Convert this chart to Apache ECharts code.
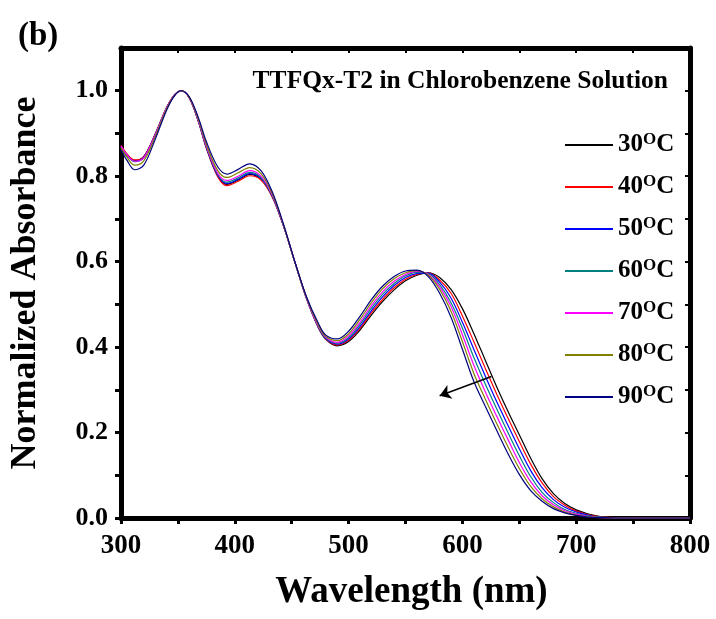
<!DOCTYPE html>
<html>
<head>
<meta charset="utf-8">
<script src="https://cdn.jsdelivr.net/npm/echarts@6/dist/echarts.min.js"></script>
<style>
  html, body { margin: 0; padding: 0; background: #fff; }
  #chart { width: 716px; height: 619px; }
</style>
</head>
<body>
<div id="chart"></div>
<script>
// wavelength grid (nm)
const wavelength = [300, 305, 312, 320, 330, 340, 347, 353, 360, 368,
  375, 385, 393, 403, 413, 423, 433, 443, 453, 463,
  473, 480, 490, 500, 510, 520, 530, 540, 550, 560,
  570, 580, 590, 600, 610, 620, 630, 640, 650, 660,
  670, 680, 690, 700, 710, 720, 735, 760, 800];

// normalized absorbance, one list per temperature
const abs30 = [0.870, 0.852, 0.837, 0.846, 0.898, 0.960, 0.990, 1.000, 0.983, 0.928,
  0.866, 0.800, 0.781, 0.791, 0.804, 0.793, 0.752, 0.682, 0.597, 0.514,
  0.448, 0.418, 0.403, 0.413, 0.440, 0.475, 0.507, 0.534, 0.555, 0.568,
  0.574, 0.563, 0.535, 0.490, 0.432, 0.370, 0.308, 0.250, 0.195, 0.140,
  0.092, 0.057, 0.034, 0.019, 0.010, 0.004, 0.001, 0.000, 0.000];
const abs40 = [0.872, 0.853, 0.838, 0.846, 0.898, 0.960, 0.990, 1.000, 0.983, 0.928,
  0.866, 0.799, 0.778, 0.788, 0.801, 0.791, 0.751, 0.682, 0.597, 0.514,
  0.448, 0.419, 0.405, 0.416, 0.444, 0.480, 0.512, 0.539, 0.559, 0.570,
  0.574, 0.557, 0.526, 0.473, 0.413, 0.351, 0.291, 0.234, 0.179, 0.126,
  0.082, 0.050, 0.030, 0.016, 0.008, 0.003, 0.001, 0.000, 0.000];
const abs50 = [0.869, 0.850, 0.835, 0.844, 0.897, 0.959, 0.990, 1.000, 0.984, 0.929,
  0.868, 0.802, 0.783, 0.793, 0.806, 0.795, 0.753, 0.682, 0.597, 0.514,
  0.449, 0.420, 0.407, 0.419, 0.448, 0.485, 0.518, 0.544, 0.563, 0.572,
  0.573, 0.552, 0.515, 0.458, 0.395, 0.333, 0.273, 0.217, 0.162, 0.111,
  0.071, 0.043, 0.025, 0.014, 0.007, 0.002, 0.000, 0.000, 0.000];
const abs60 = [0.868, 0.849, 0.834, 0.843, 0.896, 0.959, 0.990, 1.000, 0.984, 0.930,
  0.869, 0.804, 0.786, 0.796, 0.809, 0.797, 0.754, 0.683, 0.597, 0.515,
  0.450, 0.421, 0.409, 0.422, 0.453, 0.491, 0.524, 0.549, 0.567, 0.575,
  0.572, 0.546, 0.504, 0.444, 0.376, 0.314, 0.256, 0.200, 0.146, 0.097,
  0.060, 0.036, 0.020, 0.011, 0.005, 0.002, 0.000, 0.000, 0.000];
const abs70 = [0.871, 0.851, 0.835, 0.843, 0.896, 0.959, 0.990, 1.000, 0.984, 0.931,
  0.871, 0.807, 0.790, 0.800, 0.813, 0.800, 0.756, 0.683, 0.597, 0.515,
  0.451, 0.423, 0.411, 0.426, 0.458, 0.497, 0.530, 0.554, 0.570, 0.577,
  0.570, 0.541, 0.495, 0.429, 0.358, 0.296, 0.239, 0.184, 0.130, 0.085,
  0.052, 0.031, 0.017, 0.009, 0.004, 0.001, 0.000, 0.000, 0.000];
const abs80 = [0.866, 0.845, 0.826, 0.836, 0.892, 0.957, 0.989, 1.000, 0.985, 0.933,
  0.875, 0.813, 0.797, 0.808, 0.820, 0.806, 0.759, 0.684, 0.597, 0.516,
  0.454, 0.425, 0.415, 0.431, 0.465, 0.504, 0.537, 0.560, 0.574, 0.579,
  0.568, 0.535, 0.484, 0.413, 0.339, 0.279, 0.222, 0.167, 0.116, 0.074,
  0.045, 0.026, 0.014, 0.007, 0.003, 0.001, 0.000, 0.000, 0.000];
const abs90 = [0.862, 0.838, 0.815, 0.826, 0.886, 0.954, 0.988, 1.000, 0.986, 0.937,
  0.881, 0.822, 0.805, 0.816, 0.829, 0.813, 0.763, 0.686, 0.598, 0.518,
  0.458, 0.428, 0.419, 0.437, 0.472, 0.511, 0.543, 0.565, 0.578, 0.580,
  0.565, 0.526, 0.470, 0.395, 0.320, 0.262, 0.206, 0.151, 0.102, 0.064,
  0.039, 0.022, 0.012, 0.006, 0.002, 0.001, 0.000, 0.000, 0.000];

const temperatures = ['30', '40', '50', '60', '70', '80', '90'];
const xTickLabels = [300, 400, 500, 600, 700, 800];
const yTickLabels = [0, 0.2, 0.4, 0.6, 0.8, 1.0];

// arrow annotation (wavelength, absorbance)
const arrowFrom = [625.5, 0.331];
const arrowTo = [580, 0.286];

const allSeries = [abs30, abs40, abs50, abs60, abs70, abs80, abs90];
const lineColors = ['#000000', '#ff0000', '#0000ff', '#008080', '#ff00ff', '#808000', '#000080'];

const FONT = '"Liberation Serif", "Times New Roman", serif';

const chart = echarts.init(document.getElementById('chart'), null, { renderer: 'canvas' });

const frameLine = { show: true, onZero: false, lineStyle: { color: '#000', width: 5 } };

const series = temperatures.map((t, i) => ({
  name: t,
  type: 'line',
  data: wavelength.map((w, j) => [w, allSeries[i][j]]),
  showSymbol: false,
  symbol: 'none',
  smooth: 0.35,
  lineStyle: { color: lineColors[i], width: 1.2 },
  itemStyle: { color: lineColors[i] },
  z: 3
}));

// arrow showing the blue shift on heating
series[0].markLine = {
  silent: true,
  animation: false,
  label: { show: false },
  symbol: ['none', 'arrow'],
  symbolSize: 11,
  lineStyle: { color: '#000', width: 1.5, type: 'solid' },
  data: [[{ coord: arrowFrom }, { coord: arrowTo }]]
};

chart.setOption({
  animation: false,
  backgroundColor: '#fff',
  title: [
    {
      text: '(b)', left: 13, top: 15,
      textStyle: { fontFamily: FONT, fontSize: 33, fontWeight: 'bold', color: '#000' }
    },
    {
      text: 'TTFQx-T2 in Chlorobenzene Solution', right: 43, top: 63,
      textStyle: { fontFamily: FONT, fontSize: 25.5, fontWeight: 'bold', color: '#000' }
    }
  ],
  grid: { left: 117, right: 26, top: 48, bottom: 101 },
  legend: {
    orient: 'vertical',
    left: 565,
    top: 131,
    padding: 0,
    icon: 'rect',
    itemWidth: 48,
    itemHeight: 2,
    itemGap: 15.5,
    data: temperatures,
    formatter: name => `{n|${name}}{s|O}{n|C}`,
    textStyle: {
      rich: {
        n: { fontFamily: FONT, fontSize: 25, fontWeight: 'bold', color: '#000', lineHeight: 28 },
        s: { fontFamily: FONT, fontSize: 17, fontWeight: 'bold', color: '#000', lineHeight: 28, verticalAlign: 'top' }
      }
    }
  },
  xAxis: [
    {
      type: 'value', min: 300, max: 800, interval: 50,
      name: 'Wavelength (nm)', nameLocation: 'middle', nameGap: 56,
      nameTextStyle: { fontFamily: FONT, fontSize: 37, fontWeight: 'bold', color: '#000', padding: [0, 0, 0, 12] },
      axisLine: frameLine,
      axisTick: { show: true, inside: false, length: 6, lineStyle: { color: '#000', width: 3 } },
      axisLabel: {
        margin: 15, fontFamily: FONT, fontSize: 27, fontWeight: 'bold', color: '#000',
        formatter: v => (xTickLabels.includes(v) ? String(v) : '')
      },
      splitLine: { show: false }
    },
    {
      type: 'value', position: 'top', min: 300, max: 800, interval: 50,
      axisLine: frameLine,
      axisTick: { show: true, inside: true, length: 5, lineStyle: { color: '#000', width: 2 } },
      axisLabel: { show: false },
      splitLine: { show: false }
    }
  ],
  yAxis: [
    {
      type: 'value', min: 0, max: 1.1, interval: 0.1,
      name: 'Normalized Absorbance', nameLocation: 'middle', nameGap: 77,
      nameTextStyle: { fontFamily: FONT, fontSize: 36, fontWeight: 'bold', color: '#000' },
      axisLine: frameLine,
      axisTick: { show: true, inside: false, length: 6, lineStyle: { color: '#000', width: 3 } },
      axisLabel: {
        margin: 13, fontFamily: FONT, fontSize: 26, fontWeight: 'bold', color: '#000',
        showMaxLabel: false,
        formatter: v => {
          const r = Math.round(v * 10) / 10;
          return yTickLabels.some(t => Math.abs(t - r) < 1e-9) ? r.toFixed(1) : '';
        }
      },
      splitLine: { show: false }
    },
    {
      type: 'value', position: 'right', min: 0, max: 1.1, interval: 0.1,
      axisLine: frameLine,
      axisTick: { show: true, inside: true, length: 5, lineStyle: { color: '#000', width: 2 } },
      axisLabel: { show: false },
      splitLine: { show: false }
    }
  ],
  series: series
});
</script>
</body>
</html>
